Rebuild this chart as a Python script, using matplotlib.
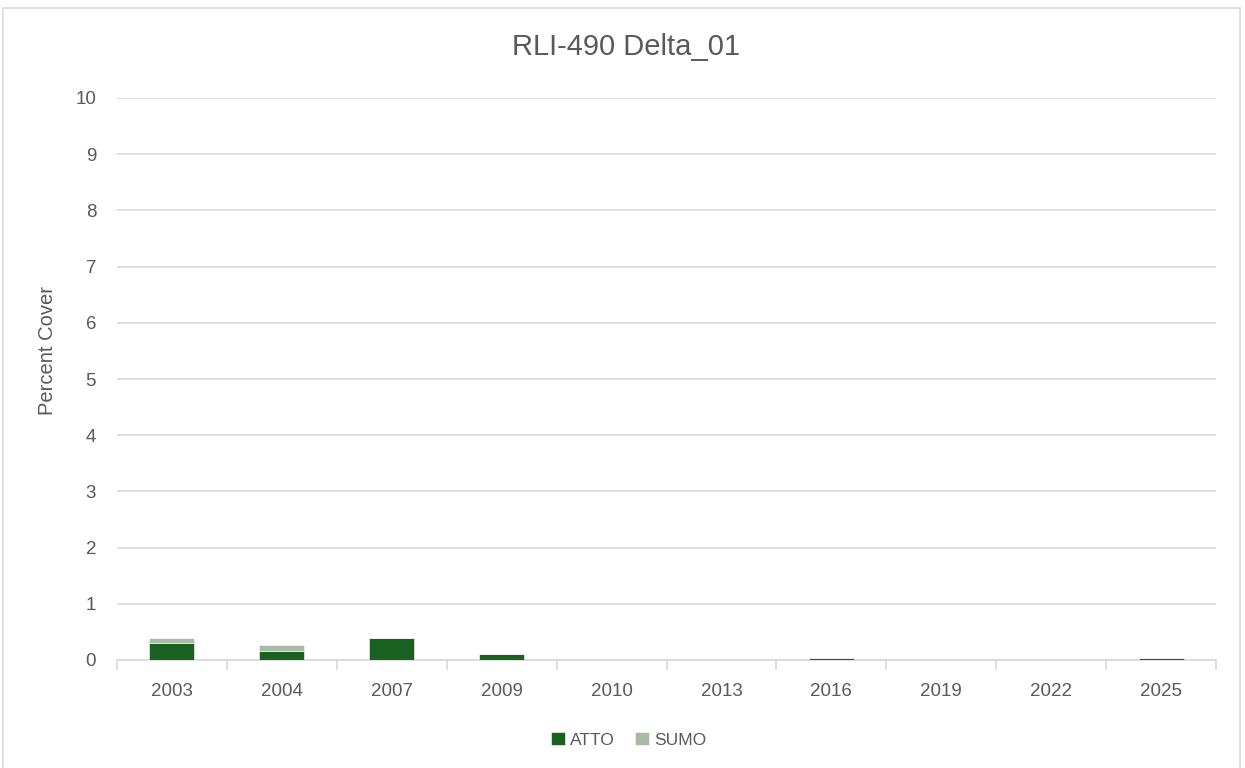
import matplotlib
matplotlib.use("Agg")
import matplotlib.pyplot as plt
import numpy as np
from matplotlib.patches import Rectangle

years = ["2003", "2004", "2007", "2009", "2010", "2013", "2016", "2019", "2022", "2025"]
atto = [0.31, 0.16, 0.39, 0.11, 0.0, 0.0, 0.03, 0.0, 0.0, 0.03]
sumo = [0.08, 0.10, 0.0, 0.0, 0.0, 0.0, 0.0, 0.0, 0.0, 0.0]

plt.rcParams['font.family'] = ['Liberation Sans', 'DejaVu Sans']
txt = '#595959'

fig = plt.figure(figsize=(12.45, 7.68), dpi=100)
fig.patches.append(Rectangle((3/1245, -0.01), 1237/1245, 1 - 8/768 + 0.01, transform=fig.transFigure,
                             fill=False, edgecolor='#d9d9d9', linewidth=1.2))
ax = fig.add_axes([117/1245, 1 - 660/768, (1216 - 117)/1245, (660 - 98)/768])

x = np.arange(len(years))
w = 0.41
ax.bar(x, atto, w, color='#1a6121', label='ATTO', zorder=3, edgecolor='white', linewidth=0.4)
ax.bar(x, sumo, w, bottom=atto, color='#a9b9a8', label='SUMO', zorder=3, edgecolor='white', linewidth=0.4)

ax.set_xlim(-0.5, len(years) - 0.5)
ax.set_ylim(0, 10)
ax.set_yticks(range(0, 11))
ax.set_xticks(x)
ax.set_xticklabels(years)
ax.set_xticks(np.arange(-0.5, len(years)), minor=True)
ax.tick_params(axis='x', which='major', length=0, pad=16.5, labelsize=13.5, labelcolor=txt)
ax.tick_params(axis='x', which='minor', length=7, color='#d9d9d9', width=1.2)
ax.tick_params(axis='y', length=0, pad=15, labelsize=13.5, labelcolor=txt)
ax.grid(axis='y', color='#d9d9d9', linewidth=1.2, zorder=0)
for s in ['top', 'right', 'left']:
    ax.spines[s].set_visible(False)
ax.spines['bottom'].set_color('#d9d9d9')
ax.spines['bottom'].set_linewidth(1.2)

ax.set_ylabel('Percent Cover', fontsize=14.5, color=txt)
ax.yaxis.set_label_coords(-0.0546, 0.55)
fig.text(0.503, 1 - 47/768, 'RLI-490 Delta_01', ha='center', va='center', fontsize=21, color=txt)
fig.legend(loc='center', bbox_to_anchor=(0.505, 1 - 740/768), ncol=2, frameon=False,
           fontsize=12.5, labelcolor=txt, handlelength=0.8, handleheight=0.8, handletextpad=0.3,
           columnspacing=1.2)

fig.savefig('out.png', dpi=100)
